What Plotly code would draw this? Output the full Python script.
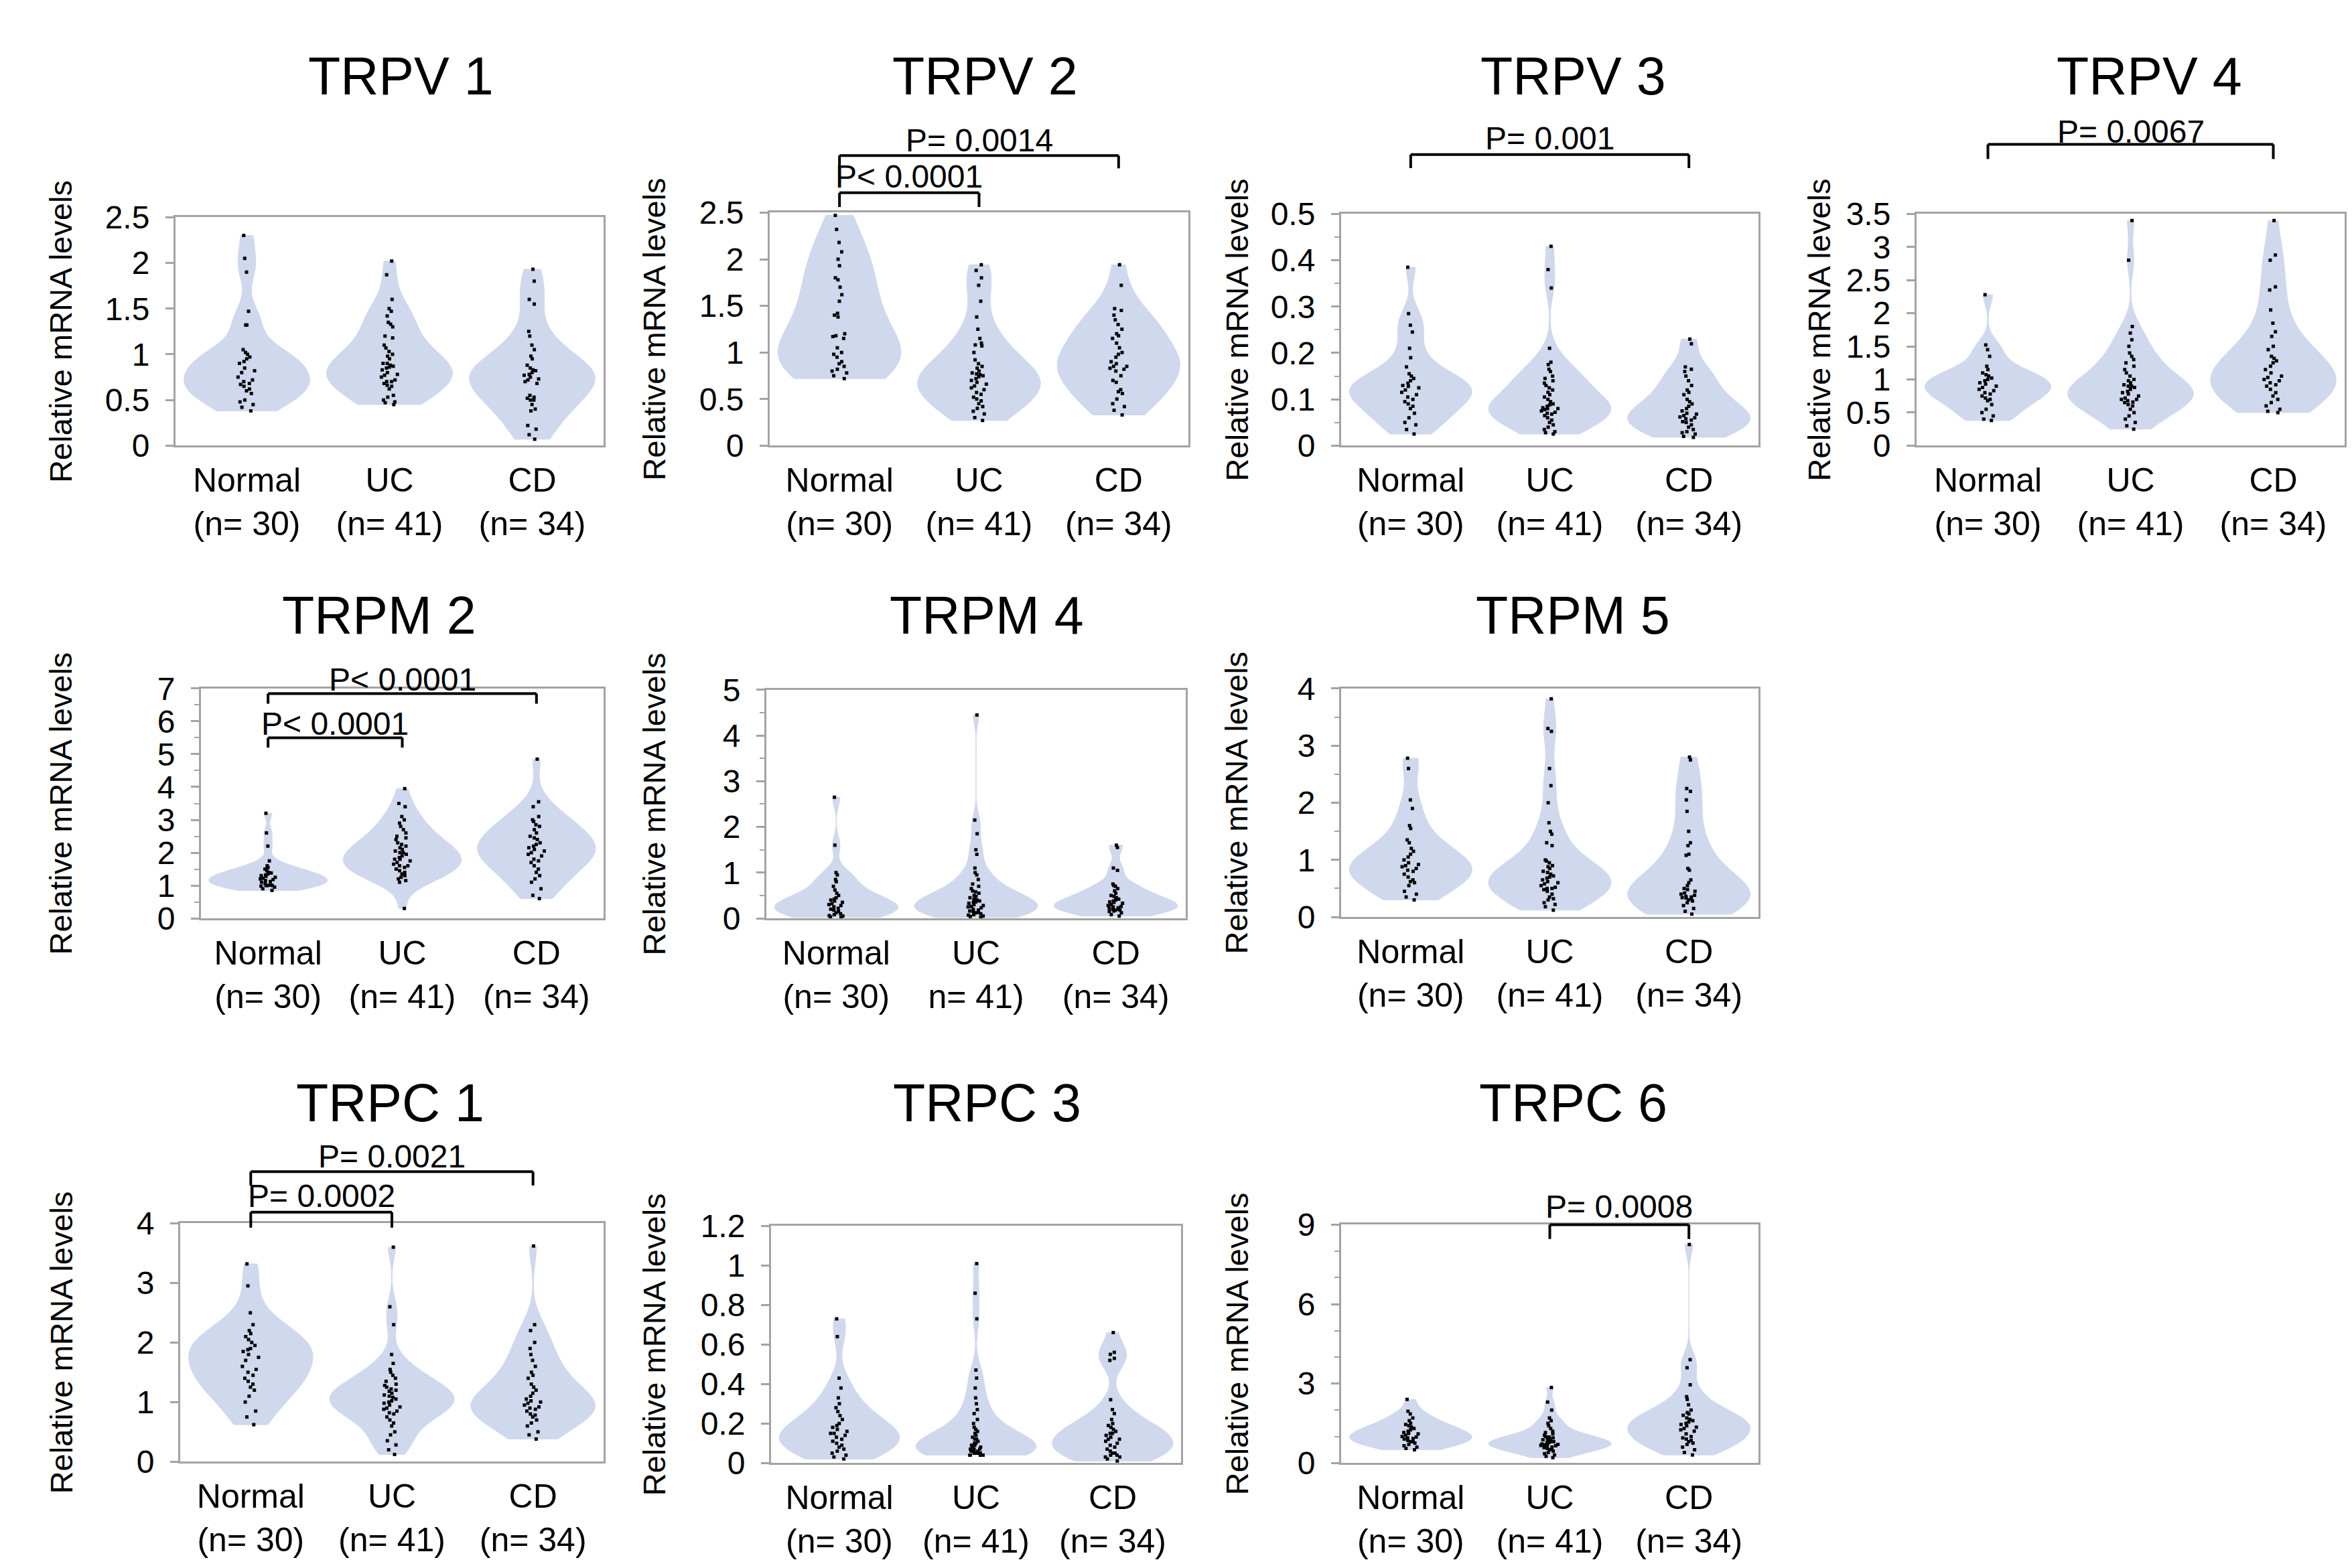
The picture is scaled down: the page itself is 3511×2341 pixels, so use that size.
import plotly.graph_objects as go

# figure size in pixels
W, H = 3511, 2341
FONT = "Liberation Sans, Arial, sans-serif"

groups = ["Normal", "UC", "CD"]
group_n = [30, 41, 34]

# values (relative mRNA levels)
trpv1_normal = [2.3, 2.05, 1.9, 1.47, 1.32, 1.32, 1.05, 1.02, 1.0, 0.97, 0.95, 0.92, 0.9, 0.85, 0.82,
                0.8, 0.75, 0.72, 0.7, 0.68, 0.67, 0.65, 0.62, 0.6, 0.57, 0.5, 0.48, 0.45, 0.42, 0.38]
trpv1_uc = [2.02, 1.87, 1.6, 1.5, 1.47, 1.42, 1.35, 1.33, 1.3, 1.2, 1.18, 1.1, 1.07, 1.03, 1.0,
            0.98, 0.95, 0.9, 0.9, 0.88, 0.87, 0.86, 0.85, 0.83, 0.8, 0.78, 0.77, 0.75, 0.72, 0.7,
            0.7, 0.68, 0.66, 0.65, 0.62, 0.55, 0.53, 0.5, 0.48, 0.47, 0.45]
trpv1_cd = [1.93, 1.8, 1.6, 1.55, 1.25, 1.2, 1.1, 1.05, 0.98, 0.95, 0.88, 0.85, 0.83, 0.82, 0.8,
            0.78, 0.77, 0.75, 0.73, 0.72, 0.7, 0.68, 0.55, 0.53, 0.52, 0.5, 0.5, 0.45, 0.4, 0.38,
            0.22, 0.18, 0.12, 0.07]

trpv2_normal = [2.47, 2.32, 2.18, 2.08, 2.0, 1.93, 1.8, 1.78, 1.7, 1.62, 1.55, 1.42, 1.4, 1.38, 1.2,
                1.18, 1.17, 1.15, 1.05, 1.0, 0.98, 0.95, 0.9, 0.88, 0.85, 0.82, 0.8, 0.78, 0.75, 0.72]
trpv2_uc = [1.94, 1.88, 1.8, 1.72, 1.55, 1.38, 1.25, 1.15, 1.1, 1.08, 1.07, 1.0, 0.92, 0.88, 0.85,
            0.83, 0.8, 0.78, 0.77, 0.76, 0.75, 0.74, 0.72, 0.7, 0.68, 0.66, 0.64, 0.62, 0.6, 0.57,
            0.55, 0.52, 0.5, 0.48, 0.45, 0.42, 0.4, 0.37, 0.34, 0.3, 0.27]
trpv2_cd = [1.94, 1.72, 1.47, 1.45, 1.4, 1.35, 1.3, 1.25, 1.2, 1.18, 1.15, 1.1, 1.05, 1.0, 0.98,
            0.95, 0.9, 0.88, 0.85, 0.85, 0.83, 0.82, 0.8, 0.75, 0.7, 0.68, 0.6, 0.58, 0.56, 0.5,
            0.45, 0.42, 0.38, 0.33]

trpv3_normal = [0.385, 0.285, 0.26, 0.245, 0.21, 0.19, 0.17, 0.155, 0.15, 0.145, 0.14, 0.135, 0.13,
                0.128, 0.125, 0.12, 0.115, 0.11, 0.105, 0.1, 0.095, 0.09, 0.085, 0.08, 0.07, 0.06,
                0.05, 0.045, 0.035, 0.025]
trpv3_uc = [0.43, 0.38, 0.34, 0.21, 0.18, 0.175, 0.165, 0.16, 0.15, 0.145, 0.14, 0.135, 0.13, 0.125,
            0.12, 0.115, 0.11, 0.105, 0.1, 0.095, 0.09, 0.088, 0.085, 0.082, 0.08, 0.08, 0.078,
            0.075, 0.072, 0.07, 0.068, 0.065, 0.06, 0.055, 0.05, 0.045, 0.04, 0.035, 0.03, 0.028, 0.025]
trpv3_cd = [0.23, 0.22, 0.17, 0.165, 0.16, 0.15, 0.14, 0.13, 0.12, 0.115, 0.11, 0.1, 0.095, 0.09,
            0.085, 0.08, 0.075, 0.07, 0.068, 0.065, 0.062, 0.06, 0.058, 0.055, 0.052, 0.05, 0.045,
            0.04, 0.035, 0.03, 0.028, 0.025, 0.02, 0.018]

trpv4_normal = [2.28, 1.52, 1.45, 1.35, 1.2, 1.15, 1.1, 1.07, 1.05, 1.02, 1.0, 0.98, 0.95, 0.93, 0.9,
                0.88, 0.85, 0.83, 0.8, 0.78, 0.75, 0.72, 0.7, 0.68, 0.62, 0.55, 0.5, 0.45, 0.4, 0.38]
trpv4_uc = [3.4, 2.8, 1.8, 1.7, 1.6, 1.5, 1.4, 1.35, 1.3, 1.25, 1.2, 1.15, 1.1, 1.05, 1.0,
            0.98, 0.95, 0.92, 0.9, 0.9, 0.88, 0.85, 0.82, 0.8, 0.78, 0.75, 0.72, 0.7, 0.7, 0.68,
            0.66, 0.65, 0.62, 0.6, 0.55, 0.5, 0.45, 0.4, 0.35, 0.3, 0.25]
trpv4_cd = [3.4, 2.88, 2.8, 2.4, 2.35, 2.05, 1.85, 1.72, 1.65, 1.5, 1.45, 1.35, 1.32, 1.28, 1.25,
            1.2, 1.15, 1.1, 1.05, 1.03, 1.0, 0.98, 0.95, 0.92, 0.9, 0.85, 0.8, 0.75, 0.7, 0.65,
            0.6, 0.55, 0.52, 0.5]

trpm2_normal = [3.2, 2.6, 2.2, 1.75, 1.6, 1.55, 1.5, 1.45, 1.4, 1.38, 1.35, 1.32, 1.3, 1.28, 1.25,
                1.22, 1.2, 1.18, 1.15, 1.12, 1.1, 1.05, 1.02, 1.0, 1.0, 1.0, 0.98, 0.95, 0.9, 0.85]
trpm2_uc = [3.95, 3.5, 3.4, 3.1, 3.0, 2.9, 2.8, 2.7, 2.6, 2.5, 2.45, 2.4, 2.3, 2.25, 2.2,
            2.15, 2.1, 2.05, 2.0, 2.0, 1.95, 1.9, 1.85, 1.8, 1.8, 1.75, 1.7, 1.65, 1.6, 1.6,
            1.55, 1.5, 1.45, 1.4, 1.35, 1.3, 1.25, 1.2, 1.15, 1.1, 0.3]
trpm2_cd = [4.85, 3.55, 3.4, 3.1, 3.0, 2.95, 2.85, 2.8, 2.7, 2.6, 2.5, 2.45, 2.4, 2.3, 2.25,
            2.2, 2.15, 2.1, 2.05, 2.0, 1.95, 1.9, 1.8, 1.75, 1.7, 1.6, 1.5, 1.4, 1.3, 1.2,
            1.1, 0.9, 0.7, 0.6]

trpm4_normal = [2.65, 1.6, 1.0, 0.95, 0.85, 0.8, 0.7, 0.62, 0.55, 0.5, 0.45, 0.42, 0.4, 0.38, 0.35,
                0.32, 0.3, 0.28, 0.25, 0.22, 0.2, 0.18, 0.15, 0.12, 0.1, 0.08, 0.06, 0.05, 0.03, 0.02]
trpm4_uc = [4.45, 2.15, 1.85, 1.5, 1.4, 1.1, 1.0, 0.95, 0.85, 0.75, 0.7, 0.65, 0.6, 0.58, 0.55,
            0.5, 0.48, 0.45, 0.42, 0.4, 0.38, 0.36, 0.35, 0.33, 0.3, 0.28, 0.26, 0.25, 0.23, 0.2,
            0.18, 0.16, 0.15, 0.13, 0.12, 0.1, 0.08, 0.07, 0.05, 0.04, 0.02]
trpm4_cd = [1.6, 1.55, 1.1, 1.05, 0.75, 0.72, 0.7, 0.65, 0.6, 0.55, 0.5, 0.48, 0.45, 0.42, 0.4,
            0.38, 0.36, 0.35, 0.33, 0.3, 0.28, 0.26, 0.25, 0.23, 0.22, 0.2, 0.2, 0.18, 0.18, 0.16,
            0.15, 0.12, 0.08, 0.05]

trpm5_normal = [2.78, 2.6, 2.05, 1.9, 1.6, 1.55, 1.35, 1.3, 1.2, 1.15, 1.1, 1.05, 1.0, 0.95, 0.92,
                0.9, 0.88, 0.85, 0.82, 0.8, 0.75, 0.7, 0.65, 0.62, 0.6, 0.55, 0.45, 0.4, 0.35, 0.3]
trpm5_uc = [3.82, 3.3, 3.25, 2.6, 2.3, 2.0, 1.65, 1.5, 1.45, 1.3, 1.25, 1.0, 0.98, 0.95, 0.9,
            0.88, 0.85, 0.8, 0.78, 0.75, 0.72, 0.7, 0.68, 0.65, 0.62, 0.6, 0.58, 0.55, 0.52, 0.5,
            0.5, 0.48, 0.45, 0.4, 0.35, 0.32, 0.3, 0.25, 0.22, 0.18, 0.12]
trpm5_cd = [2.8, 2.75, 2.25, 2.2, 2.05, 1.85, 1.5, 1.3, 1.25, 1.1, 1.08, 0.85, 0.82, 0.65, 0.6,
            0.55, 0.5, 0.48, 0.45, 0.42, 0.4, 0.38, 0.36, 0.35, 0.34, 0.33, 0.32, 0.3, 0.28, 0.25,
            0.2, 0.15, 0.1, 0.05]

trpc1_normal = [3.32, 2.95, 2.5, 2.3, 2.2, 2.15, 2.1, 2.05, 2.0, 1.95, 1.9, 1.88, 1.85, 1.8, 1.75,
                1.7, 1.6, 1.55, 1.5, 1.45, 1.4, 1.35, 1.3, 1.25, 1.2, 1.1, 1.0, 0.85, 0.75, 0.62]
trpc1_uc = [3.6, 2.6, 2.3, 1.8, 1.65, 1.55, 1.5, 1.45, 1.4, 1.35, 1.3, 1.28, 1.25, 1.22, 1.2,
            1.18, 1.15, 1.12, 1.1, 1.08, 1.05, 1.02, 1.0, 0.98, 0.95, 0.92, 0.9, 0.88, 0.85, 0.82,
            0.8, 0.75, 0.7, 0.65, 0.6, 0.5, 0.45, 0.35, 0.28, 0.2, 0.12]
trpc1_cd = [3.62, 2.3, 2.2, 2.0, 1.9, 1.8, 1.7, 1.6, 1.5, 1.45, 1.4, 1.3, 1.25, 1.2, 1.15,
            1.1, 1.05, 1.02, 1.0, 0.98, 0.95, 0.92, 0.9, 0.88, 0.85, 0.8, 0.78, 0.75, 0.7, 0.65,
            0.6, 0.5, 0.45, 0.38]

trpc3_normal = [0.73, 0.64, 0.43, 0.38, 0.33, 0.3, 0.28, 0.26, 0.24, 0.22, 0.2, 0.19, 0.18, 0.17, 0.16,
                0.15, 0.15, 0.14, 0.13, 0.12, 0.11, 0.1, 0.09, 0.08, 0.07, 0.06, 0.05, 0.04, 0.03, 0.02]
trpc3_uc = [1.01, 0.86, 0.73, 0.47, 0.43, 0.38, 0.33, 0.3, 0.27, 0.25, 0.22, 0.2, 0.18, 0.17, 0.16,
            0.15, 0.14, 0.13, 0.12, 0.12, 0.11, 0.1, 0.1, 0.09, 0.09, 0.08, 0.08, 0.07, 0.07, 0.07,
            0.06, 0.06, 0.06, 0.05, 0.05, 0.05, 0.05, 0.04, 0.04, 0.04, 0.04]
trpc3_cd = [0.66, 0.56, 0.55, 0.53, 0.52, 0.32, 0.27, 0.25, 0.22, 0.2, 0.19, 0.18, 0.17, 0.16, 0.15,
            0.15, 0.14, 0.13, 0.12, 0.12, 0.11, 0.1, 0.09, 0.08, 0.07, 0.06, 0.05, 0.05, 0.04, 0.04,
            0.03, 0.03, 0.02, 0.01]

trpc6_normal = [2.4, 1.95, 1.85, 1.7, 1.6, 1.5, 1.45, 1.4, 1.35, 1.3, 1.25, 1.2, 1.15, 1.12, 1.1,
                1.05, 1.0, 0.98, 0.95, 0.92, 0.9, 0.85, 0.8, 0.8, 0.75, 0.7, 0.65, 0.6, 0.55, 0.5]
trpc6_uc = [2.85, 2.3, 2.0, 1.7, 1.6, 1.5, 1.4, 1.3, 1.2, 1.15, 1.1, 1.05, 1.0, 0.98, 0.95,
            0.92, 0.9, 0.88, 0.85, 0.82, 0.8, 0.78, 0.75, 0.72, 0.7, 0.7, 0.68, 0.66, 0.65, 0.62,
            0.6, 0.58, 0.55, 0.52, 0.5, 0.45, 0.4, 0.35, 0.3, 0.25, 0.2]
trpc6_cd = [8.25, 3.9, 3.6, 2.95, 2.5, 2.4, 2.2, 2.0, 1.9, 1.85, 1.8, 1.7, 1.65, 1.6, 1.55,
            1.5, 1.45, 1.4, 1.35, 1.3, 1.25, 1.2, 1.1, 1.0, 0.95, 0.9, 0.85, 0.8, 0.75, 0.7,
            0.6, 0.5, 0.4, 0.3]

panel_names = ["TRPV 1", "TRPV 2", "TRPV 3", "TRPV 4",
               "TRPM 2", "TRPM 4", "TRPM 5",
               "TRPC 1", "TRPC 3", "TRPC 6"]
panel_values = [
  [trpv1_normal, trpv1_uc, trpv1_cd],
  [trpv2_normal, trpv2_uc, trpv2_cd],
  [trpv3_normal, trpv3_uc, trpv3_cd],
  [trpv4_normal, trpv4_uc, trpv4_cd],
  [trpm2_normal, trpm2_uc, trpm2_cd],
  [trpm4_normal, trpm4_uc, trpm4_cd],
  [trpm5_normal, trpm5_uc, trpm5_cd],
  [trpc1_normal, trpc1_uc, trpc1_cd],
  [trpc3_normal, trpc3_uc, trpc3_cd],
  [trpc6_normal, trpc6_uc, trpc6_cd],
]
# y axis: top of range, tick step, minor tick step
y_max = [2.5, 2.5, 0.5, 3.5, 7, 5, 4, 4, 1.2, 9]
y_step = [0.5, 0.5, 0.1, 0.5, 1, 1, 1, 1, 0.2, 3]
y_minor = [None, None, 0.05, None, 0.5, 0.5, 0.5, None, None, 1]

# the TRPM 4 panel has "n= 41)" without the opening bracket
label_fix = {5: {1: "UC<br>n= 41)"}}

# significance brackets: panel, from group, to group, text
comparisons = [
  (1, 0, 2, "P= 0.0014"),
  (1, 0, 1, "P< 0.0001"),
  (2, 0, 2, "P= 0.001"),
  (3, 0, 2, "P= 0.0067"),
  (4, 0, 2, "P< 0.0001"),
  (4, 0, 1, "P< 0.0001"),
  (7, 0, 2, "P= 0.0021"),
  (7, 0, 1, "P= 0.0002"),
  (9, 1, 2, "P= 0.0008"),
]

# ---- layout positions (pixels of the 3511 x 2341 page) ----
# plot box of each panel: left, top, right, bottom
boxes = [
  (254, 297, 893, 646), (1141, 290, 1766, 646), (1994, 292, 2617, 646), (2853, 292, 3492, 646),
  (292, 1017, 893, 1368), (1136, 1019, 1762, 1368), (1994, 1017, 2617, 1366),
  (261, 1834, 893, 2198), (1143, 1838, 1755, 2200), (1994, 1836, 2617, 2200),
]
title_pos = [(590, 81), (1462, 81), (2340, 81), (3200, 81),
             (558, 905), (1465, 905), (2340, 905),
             (574, 1650), (1465, 1650), (2340, 1650)]
ytitle_x = [83, 968, 1838, 2707, 83, 968, 1838, 83, 968, 1838]
# bracket bar height, end drop, text centre (fractions of the plot height)
bracket_y = [(1.245, 1.19, 1.31), (1.085, 1.024, 1.156), (1.256, 1.198, 1.325),
             (1.30, 1.237, 1.356), (0.978, 0.934, 1.04), (0.786, 0.743, 0.848),
             (1.217, 1.159, 1.28), (1.047, 0.982, 1.115), (1.0, 0.94, 1.076)]

violin_color = "#cfd8ec"
frame_color = "#a3a3a3"

fig = go.Figure()
layout = dict(width=W, height=H, margin=dict(l=0, r=0, t=0, b=0),
              paper_bgcolor="white", plot_bgcolor="white", showlegend=False,
              font=dict(family=FONT, color="black"))
annotations = []
shapes = []

for p, name in enumerate(panel_names):
  suffix = "" if p == 0 else str(p + 1)
  xr, yr = "x" + suffix, "y" + suffix
  labels = ["%s<br>(n= %d)" % (g, n) for g, n in zip(groups, group_n)]
  for gi, lab in label_fix.get(p, {}).items():
    labels[gi] = lab

  for gi, vals in enumerate(panel_values[p]):
    fig.add_trace(go.Violin(
      x=[labels[gi]] * len(vals), y=vals, xaxis=xr, yaxis=yr,
      fillcolor=violin_color, line=dict(color=violin_color, width=1),
      points="all", pointpos=0, jitter=0.15, spanmode="hard", width=0.88,
      marker=dict(color="black", size=5, symbol="square"),
      hoverinfo="y"))

  x0, y0, x1, y1 = boxes[p]
  layout["xaxis" + suffix] = dict(
    domain=[x0 / W, x1 / W], anchor=yr, type="category",
    categoryorder="array", categoryarray=labels, range=[-0.5, 2.5],
    showline=True, mirror=True, linecolor=frame_color, linewidth=3,
    ticks="", ticklabelstandoff=6, showgrid=False, zeroline=False,
    tickfont=dict(size=50, family=FONT, color="black"))
  yax = dict(
    domain=[1 - y1 / H, 1 - y0 / H], anchor=xr, range=[0, y_max[p]],
    tick0=0, dtick=y_step[p], showline=True, mirror=True, linecolor=frame_color,
    linewidth=3, ticks="outside", ticklen=12, tickwidth=3, tickcolor=frame_color,
    ticklabelstandoff=14, showgrid=False, zeroline=False,
    tickfont=dict(size=48, family=FONT, color="black"))
  if y_minor[p]:
    yax["minor"] = dict(dtick=y_minor[p], ticks="outside", ticklen=7,
                        tickwidth=2, tickcolor=frame_color, showgrid=False)
  layout["yaxis" + suffix] = yax

  # panel title and y axis title
  tx, ty = title_pos[p]
  annotations.append(dict(text=name, x=tx / W, y=1 - ty / H, xref="paper", yref="paper",
                          xanchor="center", yanchor="middle", showarrow=False,
                          font=dict(size=79, family=FONT, color="black")))
  annotations.append(dict(text="Relative mRNA levels", x=ytitle_x[p] / W,
                          y=1 - (y0 + y1) / 2 / H, xref="paper", yref="paper",
                          xanchor="center", yanchor="middle", textangle=-90, showarrow=False,
                          font=dict(size=47, family=FONT, color="black")))

# significance brackets
for (p, a, b, text), (bar, drop, ty) in zip(comparisons, bracket_y):
  suffix = "" if p == 0 else str(p + 1)
  xr, yr = "x" + suffix, "y" + suffix + " domain"
  line = dict(color="black", width=4)
  shapes.append(dict(type="line", xref=xr, yref=yr, x0=a, x1=b, y0=bar, y1=bar, line=line))
  shapes.append(dict(type="line", xref=xr, yref=yr, x0=a, x1=a, y0=drop, y1=bar, line=line))
  shapes.append(dict(type="line", xref=xr, yref=yr, x0=b, x1=b, y0=drop, y1=bar, line=line))
  annotations.append(dict(text=text, x=(a + b) / 2, y=ty, xref=xr, yref=yr,
                          xanchor="center", yanchor="middle", showarrow=False,
                          font=dict(size=48, family=FONT, color="black")))

layout["annotations"] = annotations
layout["shapes"] = shapes
fig.update_layout(**layout)

fig.write_html("out.html")
